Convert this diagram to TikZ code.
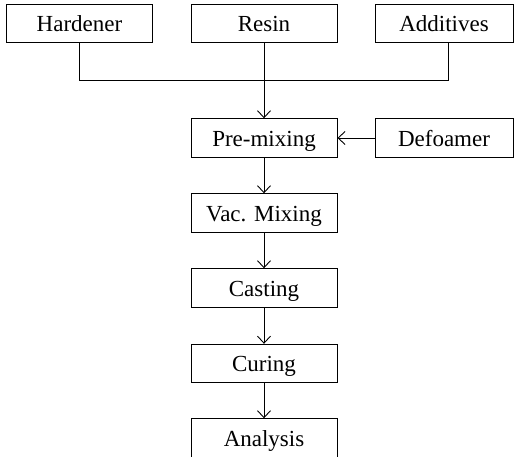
\documentclass[tikz,border=0pt]{standalone}
\usepackage{fontspec}
\setmainfont{Liberation Serif}
\usetikzlibrary{arrows.meta}
\begin{document}
\begin{tikzpicture}[x=1pt,y=-1pt,
  box/.style={draw,line width=0.9pt,minimum width=146pt,minimum height=38.5pt,inner sep=0pt,text height=16.5pt,text depth=0pt,font=\fontsize{23}{27}\selectfont,anchor=center},
  conn/.style={line width=0.9pt},
  arr/.style={conn,-{Straight Barb[length=7pt,width=13pt,line width=0.9pt]}}]
\useasboundingbox (0,0) rectangle (515,457);
\node[box] (hard) at (79.5,23.5) {Hardener};
\node[box] (resin) at (264,23.5) {Resin};
\node[box,minimum width=138pt] (add) at (444,23.5) {Additives};
\node[box] (pre) at (264,138) {Pre-mixing};
\node[box,minimum width=138pt] (def) at (444,138) {Defoamer};
\node[box] (vac) at (264,213) {Vac. Mixing};
\node[box] (cast) at (264,288) {Casting};
\node[box] (cur) at (264,363.5) {Curing};
\node[box] (ana) at (264,438) {Analysis};
\coordinate (j) at (264,80);
\draw[conn] (hard.south) |- (j);
\draw[conn] (add.south -| 448,0) |- (j);
\draw[arr] (resin) -- (pre);
\draw[arr] (def) -- (pre);
\draw[arr] (pre) -- (vac);
\draw[arr] (vac) -- (cast);
\draw[arr] (cast) -- (cur);
\draw[arr] (cur) -- (ana);
\end{tikzpicture}
\end{document}
